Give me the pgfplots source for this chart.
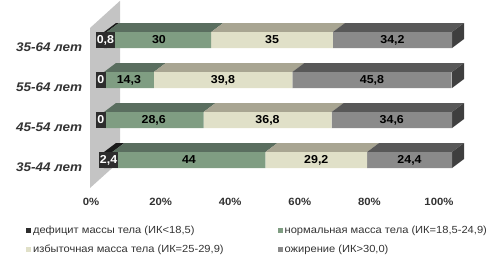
\documentclass[border=0pt]{standalone}
\usepackage{fontspec}
\setmainfont{Liberation Sans}[FakeStretch=1.08]
\usepackage{pgfplots}
\pgfplotsset{compat=1.18}
\usepackage{pgfplotstable}
\definecolor{cBlk}{HTML}{2D2D2D}
\definecolor{cBlkT}{HTML}{1A1A1A}
\definecolor{cGrn}{HTML}{7F9D82}
\definecolor{cGrnT}{HTML}{5A6E5F}
\definecolor{cBei}{HTML}{E0E0C8}
\definecolor{cBeiT}{HTML}{A8A592}
\definecolor{cGry}{HTML}{8A8A8A}
\definecolor{cGryT}{HTML}{585858}
\definecolor{cSide}{HTML}{3F3F3F}
\definecolor{cWall}{HTML}{C4C4C4}
\definecolor{cTxt}{HTML}{333333}
\pgfplotstableread{
y d n o ob
0 2.4 44 29.2 24.4
1 0 28.6 36.8 34.6
2 0 14.3 39.8 45.8
3 0.8 30 35 34.2
}\data
\pgfplotsset{
  base/.style={
    at={(104pt,106pt)}, anchor=origin,
    x=3.48pt, y=40pt,
    xmin=-5, xmax=106, ymin=-0.8, ymax=4.05,
    clip=false,
    axis line style={draw=none},
    tick style={draw=none},
  },
  plain/.style={base, xtick=\empty, ytick=\empty},
}
\begin{document}
\begin{tikzpicture}
\path[use as bounding box] (0,0) rectangle (488pt,266pt);
% wall and top faces
\begin{axis}[plain]
\addplot[fill=cWall, draw=none] coordinates {(-4.02,3.3) (4.6,3.98) (4.6,-0.025) (-4.02,-0.7)} -- cycle;
% row 3
\addplot[fill=cBlkT, draw=none] coordinates {(0,3.2) (0.8,3.2) (4.25,3.425) (3.45,3.425)} -- cycle;
\addplot[fill=cGrnT, draw=none] coordinates {(0.8,3.2) (30.8,3.2) (34.25,3.425) (4.25,3.425)} -- cycle;
\addplot[fill=cBeiT, draw=none] coordinates {(30.8,3.2) (65.8,3.2) (69.25,3.425) (34.25,3.425)} -- cycle;
\addplot[fill=cGryT, draw=none] coordinates {(65.8,3.2) (100,3.2) (103.45,3.425) (69.25,3.425)} -- cycle;
\addplot[fill=cSide, draw=none] coordinates {(100,2.8) (100,3.2) (103.45,3.425) (103.45,3.025)} -- cycle;
% row 2
\addplot[fill=cGrnT, draw=none] coordinates {(0,2.2) (14.3,2.2) (17.75,2.425) (3.45,2.425)} -- cycle;
\addplot[fill=cBeiT, draw=none] coordinates {(14.3,2.2) (54.1,2.2) (57.55,2.425) (17.75,2.425)} -- cycle;
\addplot[fill=cGryT, draw=none] coordinates {(54.1,2.2) (100,2.2) (103.45,2.425) (57.55,2.425)} -- cycle;
\addplot[fill=cSide, draw=none] coordinates {(100,1.8) (100,2.2) (103.45,2.425) (103.45,2.025)} -- cycle;
% row 1
\addplot[fill=cGrnT, draw=none] coordinates {(0,1.2) (28.6,1.2) (32.05,1.425) (3.45,1.425)} -- cycle;
\addplot[fill=cBeiT, draw=none] coordinates {(28.6,1.2) (65.4,1.2) (68.85,1.425) (32.05,1.425)} -- cycle;
\addplot[fill=cGryT, draw=none] coordinates {(65.4,1.2) (100,1.2) (103.45,1.425) (68.85,1.425)} -- cycle;
\addplot[fill=cSide, draw=none] coordinates {(100,0.8) (100,1.2) (103.45,1.425) (103.45,1.025)} -- cycle;
% row 0
\addplot[fill=cBlkT, draw=none] coordinates {(0,0.2) (2.4,0.2) (5.85,0.425) (3.45,0.425)} -- cycle;
\addplot[fill=cGrnT, draw=none] coordinates {(2.4,0.2) (46.4,0.2) (49.85,0.425) (5.85,0.425)} -- cycle;
\addplot[fill=cBeiT, draw=none] coordinates {(46.4,0.2) (75.6,0.2) (79.05,0.425) (49.85,0.425)} -- cycle;
\addplot[fill=cGryT, draw=none] coordinates {(75.6,0.2) (100,0.2) (103.45,0.425) (79.05,0.425)} -- cycle;
\addplot[fill=cSide, draw=none] coordinates {(100,-0.2) (100,0.2) (103.45,0.425) (103.45,0.025)} -- cycle;
\end{axis}
% front faces, ticks, legend
\begin{axis}[
  base,
  xbar stacked, bar width=16pt,
  xtick={0,20,40,60,80,100},
  xticklabels={0\%,20\%,40\%,60\%,80\%,100\%},
  xticklabel style={font=\bfseries\fontsize{10.5}{12}\selectfont, text=cTxt, xshift=-13pt, yshift=-3pt},
  ytick={0,1,2,3},
  yticklabels={35-44 лет,45-54 лет,55-64 лет,35-64 лет},
  yticklabel style={font=\bfseries\itshape\fontsize{12.5}{14}\selectfont, text=cTxt, yshift=-7pt, xshift=-1pt},
  legend columns=2,
  legend cell align=left,
  legend style={at={(axis description cs:-0.165,-0.155)}, anchor=north west, draw=none, fill=none,
    font=\fontsize{10.3}{12}\selectfont, text=cTxt, row sep=6pt,
    /tikz/every even column/.append style={column sep=52pt}},
]
\addplot[fill=cBlk, draw=none, legend image code/.code={\fill[cBlk] (0pt,-2.5pt) rectangle (5pt,2.5pt);}] table[x=d, y=y] {\data};
\addlegendentry{дефицит массы тела (ИК<18,5)}
\addplot[fill=cGrn, draw=none, legend image code/.code={\fill[cGrn] (0pt,-2.5pt) rectangle (5pt,2.5pt);}] table[x=n, y=y] {\data};
\addlegendentry{нормальная масса тела (ИК=18,5-24,9)}
\addplot[fill=cBei, draw=none, legend image code/.code={\fill[cBei] (0pt,-2.5pt) rectangle (5pt,2.5pt);}] table[x=o, y=y] {\data};
\addlegendentry{избыточная масса тела (ИК=25-29,9)}
\addplot[fill=cGry, draw=none, legend image code/.code={\fill[cGry] (0pt,-2.5pt) rectangle (5pt,2.5pt);}] table[x=ob, y=y] {\data};
\addlegendentry{ожирение (ИК>30,0)}
\end{axis}
% value labels
\begin{axis}[plain]
\addplot[draw=none, mark=none, only marks,
  nodes near coords, point meta=explicit symbolic,
  every node near coord/.style={anchor=center, font=\bfseries\fontsize{11.5}{13}\selectfont, text=black}]
  coordinates {
  (15.8,3) [30] (48.3,3) [35] (82.9,3) [34,2]
  (7.15,2) [14,3] (34.2,2) [39,8] (77.0,2) [45,8]
  (14.3,1) [28,6] (47.0,1) [36,8] (82.7,1) [34,6]
  (24.4,0) [44] (61.0,0) [29,2] (87.8,0) [24,4]
  };
\addplot[draw=none, mark=none, only marks,
  nodes near coords, point meta=explicit symbolic,
  every node near coord/.style={anchor=center, font=\bfseries\fontsize{11.5}{13}\selectfont, text=white, fill=cBlk, inner xsep=1.2pt, inner ysep=0pt, minimum height=16pt}]
  coordinates {
  (0.4,3) [0,8] (-0.9,2) [0] (-0.9,1) [0] (1.3,0) [2,4]
  };
\end{axis}
\end{tikzpicture}
\end{document}
